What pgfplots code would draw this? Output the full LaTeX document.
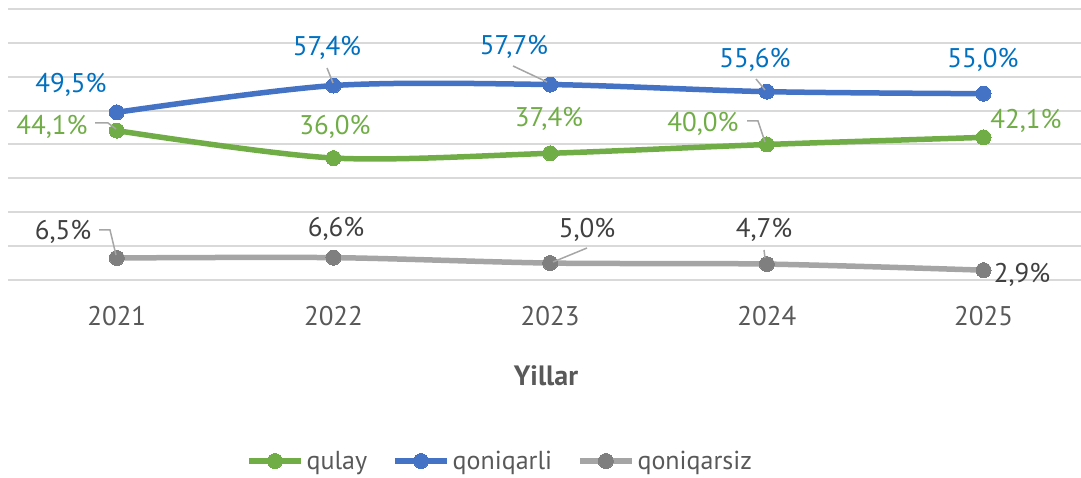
\documentclass[border=0pt]{standalone}
\usepackage{pgfplots}
\pgfplotsset{compat=1.18}
\usepackage{fontspec}
\setmainfont{PT Sans}

\definecolor{cgreen}{HTML}{70AD47}
\definecolor{cblue}{HTML}{4472C4}
\definecolor{cgrayl}{HTML}{A5A5A5}
\definecolor{cgraym}{HTML}{7F7F7F}
\definecolor{lblue}{HTML}{0070C0}
\definecolor{ltxt}{HTML}{404040}
\definecolor{ttxt}{HTML}{595959}
\definecolor{gridc}{HTML}{D9D9D9}
\definecolor{leader}{HTML}{A6A6A6}

\newcommand{\lbl}{\fontsize{27}{32}\selectfont}
\newcommand{\tck}{\fontsize{27}{32}\selectfont}

\begin{document}
\begin{tikzpicture}
\path[use as bounding box] (0,0) rectangle (1081pt,478pt);
\begin{axis}[
  at={(8pt,198pt)}, anchor=south west,
  scale only axis, width=1073pt, height=271pt,
  xmin=-0.502, xmax=4.45, ymin=0, ymax=80,
  xtick={0,1,2,3,4}, xticklabels={2021,2022,2023,2024,2025},
  ytick={0,10,...,80}, yticklabels={},
  ymajorgrids, grid style={gridc, line width=2pt},
  axis line style={draw=none}, major tick length=0pt,
  tick label style={font=\tck, color=ttxt},
  xticklabel style={anchor=base, yshift=-46pt},
  xlabel={\bfseries Yillar},
  xlabel style={at={(axis description cs:0.5014,-0.3875)}, anchor=base, font=\fontsize{28}{32}\selectfont, color=ttxt},
  legend style={at={(axis description cs:0.459,-0.668)}, anchor=center, draw=none, fill=none,
    legend columns=3, font=\fontsize{26}{30}\selectfont, text=ttxt, inner sep=0pt,
    nodes={inner xsep=3pt},
    /tikz/every even column/.append style={column sep=22pt}},
  legend cell align=left,
  legend image code/.code={
    \draw[#1, mark=none] (0pt,0pt) -- (52pt,0pt);
    \draw[#1, sharp plot] plot coordinates {(26pt,0pt)};
  },
  every axis plot/.append style={line width=5.5pt, smooth, tension=0.5},
  clip=false,
]
\addplot[cgreen, mark=*, mark size=7.5pt, mark options={fill=cgreen, draw=cgreen, line width=0pt}]
  coordinates {(0,44.1) (1,36.0) (2,37.4) (3,40.0) (4,42.1)};
\addlegendentry{qulay}
\addplot[cblue, mark=*, mark size=7.5pt, mark options={fill=cblue, draw=cblue, line width=0pt}]
  coordinates {(0,49.5) (1,57.4) (2,57.7) (3,55.6) (4,55.0)};
\addlegendentry{qoniqarli}
\addplot[cgrayl, mark=*, mark size=7.5pt, mark options={fill=cgraym, draw=cgraym, line width=0pt}]
  coordinates {(0,6.5) (1,6.6) (2,5.0) (3,4.7) (4,2.9)};
\addlegendentry{qoniqarsiz}
\end{axis}

\begin{scope}[shift={(0,478pt)}, x=1pt, y=-1pt]
  % leader lines
  \draw[leader, line width=1.5pt] (95,123) -- (108,123) -- (116,129);
  \draw[leader, line width=1.5pt] (99,230) -- (110,230) -- (116,255);
  \draw[leader, line width=1.5pt] (327,68) -- (333,83);
  \draw[leader, line width=1.5pt] (513,66) -- (547,82);
  \draw[leader, line width=1.5pt] (756,79) -- (765,90);
  \draw[leader, line width=1.5pt] (747,121) -- (758,121) -- (765,142);
  \draw[leader, line width=1.5pt] (587,248) -- (553,262);
  \draw[leader, line width=1.5pt] (764,250) -- (765,258);
  % blue labels
  \begin{scope}[every node/.style={font=\lbl, text=lblue, anchor=base, inner sep=0pt}]
    \node at (71,93) {49,5\%};
    \node at (327,56) {57,4\%};
    \node at (514,55) {57,7\%};
    \node at (755,68) {55,6\%};
    \node at (983,68) {55,0\%};
  \end{scope}
  % green labels
  \begin{scope}[every node/.style={font=\lbl, text=cgreen, anchor=base, inner sep=0pt}]
    \node at (52,135) {44,1\%};
    \node at (335,135) {36,0\%};
    \node at (549,127) {37,4\%};
    \node at (703,132) {40,0\%};
    \node at (1026,129) {42,1\%};
  \end{scope}
  % gray labels
  \begin{scope}[every node/.style={font=\lbl, text=ltxt, anchor=base, inner sep=0pt}]
    \node at (63,240) {6,5\%};
    \node at (336,237) {6,6\%};
    \node at (587,238) {5,0\%};
    \node at (764,238) {4,7\%};
    \node at (1022,283) {2,9\%};
  \end{scope}
\end{scope}
\end{tikzpicture}
\end{document}
